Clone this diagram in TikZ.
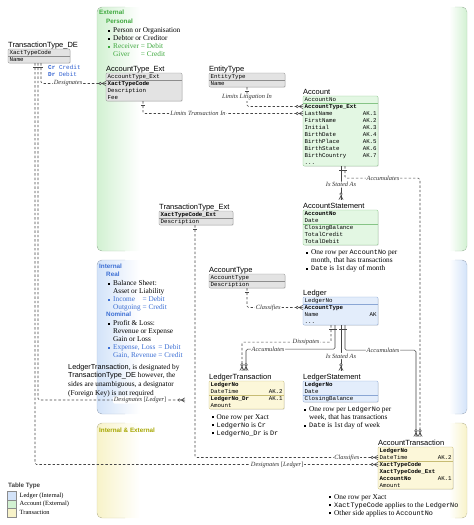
\documentclass[tikz,border=0pt]{standalone}
\usepackage{fontspec}
\setmainfont{Liberation Serif}
\setsansfont{Liberation Sans}
\setmonofont{Liberation Mono}
\usepackage{calc}
\usetikzlibrary{calc,shadows}

\definecolor{pgreen}{HTML}{D2F1D2}
\definecolor{pblue}{HTML}{D3E3F9}
\definecolor{pyel}{HTML}{F8F3C9}
\definecolor{extgreen}{HTML}{3DA83D}
\definecolor{intblue}{HTML}{3C6FD4}
\definecolor{bothyel}{HTML}{A6A600}
\definecolor{tabgray}{HTML}{E3E3E3}
\definecolor{tabgrayd}{HTML}{8E8E8E}
\definecolor{tabgreen}{HTML}{E3F7E3}
\definecolor{tabgreend}{HTML}{86C486}
\definecolor{tabblue}{HTML}{E3EDFB}
\definecolor{tabblued}{HTML}{8AA6D4}
\definecolor{tabyel}{HTML}{FCF7D9}
\definecolor{tabyeld}{HTML}{C7BC74}
\definecolor{linegray}{HTML}{454545}
\definecolor{crblue}{HTML}{3060D0}

\tikzset{
  etitle/.style={anchor=base west, inner sep=0pt, font=\sffamily\fontsize{7.5}{9}\selectfont},
  erow/.style={anchor=west, inner xsep=1.5pt, inner ysep=0pt, minimum height=7pt,
    text height=4.3pt, text depth=1.3pt, font=\ttfamily\fontsize{5.8}{7}\selectfont},
  gtab/.style={draw=tabgrayd, fill=tabgray},
  atab/.style={draw=tabgreend, fill=tabgreen},
  ltab/.style={draw=tabblued, fill=tabblue},
  ttab/.style={draw=tabyeld, fill=tabyel},
  tabshadow/.style={drop shadow={shadow xshift=0.8pt, shadow yshift=-0.8pt, opacity=0.2}},
  rel/.style={draw=linegray, line width=0.55pt, dash pattern=on 2.4pt off 2pt, rounded corners=1.5pt},
  idrel/.style={draw=linegray, line width=0.55pt, rounded corners=1.5pt},
  lbl/.style={fill=white, inner sep=0.8pt, text=black!80, font=\itshape\fontsize{6.4}{7}\selectfont},
  note/.style={anchor=north west, inner sep=0pt, align=left, font=\fontsize{7.3}{8}\selectfont},
  head/.style={anchor=base west, inner sep=0pt, font=\sffamily\bfseries\fontsize{6.3}{7}\selectfont},
  swatch/.style={draw=black!45, anchor=north west, minimum width=9pt, minimum height=8.5pt, inner sep=0pt},
  legtext/.style={anchor=base west, inner sep=0pt, font=\fontsize{6.4}{7}\selectfont},
  zmany/.pic={
    \draw[linegray, line width=0.5pt] (-4,0) -- (0,0) (-4,0) -- (0,2.2) (-4,0) -- (0,-2.2);
    \draw[linegray, line width=0.5pt, fill=white] (-5.7,0) circle (1.3);
  },
  onebar/.pic={\draw[linegray, line width=0.5pt] (-1.6,0) -- (1.6,0);},
}

\newcommand\bul{\makebox[5pt][l]{\rule[0.8pt]{2.2pt}{2.2pt}}}
\newcommand\ind{\hspace*{5pt}}
\newcommand\code[1]{{\ttfamily\fontsize{6.8}{8}\selectfont #1}}

% table: id, title, x, top, width, look, key rows, rows, row list
\newcommand\entity[9]{%
  \draw[#6, rounded corners=1.2pt, tabshadow] (#3,#4) rectangle ++(#5,{7*#8});
  \node[etitle] (#1) at (#3,{#4-1.8}) {#2};
  \pgfmathsetlengthmacro\rowwd{#5*1pt-3pt}
  \foreach \r [count=\i] in {#9}
    \node[erow, text width=\rowwd] (#1-\i) at (#3,{#4+7*\i-3.5}) {\r};
  \draw[#6, fill=none] (#3,{#4+7*#7}) -- ++(#5,0);
}

% panel: colour, top, bottom
\newcommand\panel[3]{%
  \begin{scope}
    \clip[rounded corners=5pt] (97,#2) rectangle (467,#3);
    \fill[left color=#1, right color=white] (97,#2) rectangle (140,#3);
    \fill[left color=white, right color=#1] (449,#2) rectangle (467,#3);
  \end{scope}
  \draw[#1!85!black, rounded corners=5pt] (125,#2) -- (97,#2) -- (97,#3) -- (125,#3);
  \draw[#1!85!black, rounded corners=5pt] (455,#2) -- (467,#2) -- (467,#3) -- (455,#3);
}

\begin{document}
\begin{tikzpicture}[x=1pt, y=-1pt]
\useasboundingbox (0,0) rectangle (474,525);

% Bereiche

\panel{pgreen}{7}{251}
\panel{pblue}{260}{414}
\panel{pyel}{423}{518}

\node[head, text=extgreen] (exth) at (99,14.3) {External};
\node[head, text=extgreen] (persh) at (106,23.3) {Personal};
\node[note] (persl) at (108,26.9) {\strut\bul Person or Organisation\\
  \bul Debtor or Creditor\\
  \textcolor{extgreen}{\bul \makebox[\widthof{Receiver}][l]{Receiver} = Debit}\\
  \textcolor{extgreen}{\ind \makebox[\widthof{Receiver}][l]{Giver} = Credit}};

\node[head, text=intblue] (inth) at (99,268.3) {Internal};
\node[head, text=intblue] (realh) at (106,276.8) {Real};
\node[note] (reall) at (108,279.9) {\strut\bul Balance Sheet:\\
  \ind Asset or Liability\\
  \textcolor{intblue}{\bul \makebox[\widthof{Outgoing}][l]{Income} = Debit}\\
  \textcolor{intblue}{\ind Outgoing = Credit}};
\node[head, text=intblue] (nomh) at (106,316.7) {Nominal};
\node[note] (noml) at (108,319.9) {\strut\bul Profit \& Loss:\\
  \ind Revenue or Expense\\
  \ind Gain or Loss\\
  \textcolor{intblue}{\bul \makebox[\widthof{Gain, Revenue}][l]{Expense, Loss} = Debit}\\
  \textcolor{intblue}{\ind Gain, Revenue = Credit}};

\node[head, text=bothyel] (bothh) at (99,432.5) {Internal \& External};

% Tabellen

\entity{ttde}{TransactionType\_DE}{8}{49}{62}{gtab}{1}{2}{XactTypeCode, Name}
\entity{ate}{AccountType\_Ext}{106}{73}{76}{gtab}{1}{4}{AccountType\_Ext, \textbf{XactTypeCode}, Description, Fee}
\entity{ent}{EntityType}{209}{73}{76}{gtab}{1}{2}{EntityType, Name}
\entity{acc}{Account}{303}{96}{75}{atab}{1}{10}{AccountNo, \textbf{AccountType\_Ext}, LastName\hfill AK.1,
  FirstName\hfill AK.2, Initial\hfill AK.3, BirthDate\hfill AK.4, BirthPlace\hfill AK.5,
  BirthState\hfill AK.6, BirthCountry\hfill AK.7, .{}.{}.}
\entity{ast}{AccountStatement}{303}{210}{75}{atab}{2}{5}{\textbf{AccountNo}, Date, ClosingBalance, TotalCredit, TotalDebit}
\entity{tte}{TransactionType\_Ext}{159}{211}{74}{gtab}{1}{2}{\textbf{XactTypeCode\_Ext}, Description}
\entity{aty}{AccountType}{209}{274}{76}{gtab}{1}{2}{AccountType, Description}
\entity{led}{Ledger}{303}{297}{75}{ltab}{1}{4}{LedgerNo, \textbf{AccountType}, Name\hfill AK, .{}.{}.}
\entity{ltr}{LedgerTransaction}{209}{381}{75}{ttab}{2}{4}{\textbf{LedgerNo}, DateTime\hfill AK.2,
  \textbf{LedgerNo\_Dr}\hfill AK.1, Amount}
\entity{lst}{LedgerStatement}{303}{381}{75}{ltab}{2}{3}{\textbf{LedgerNo}, Date, ClosingBalance}
\entity{atr}{AccountTransaction}{378}{447}{75}{ttab}{2}{6}{\textbf{LedgerNo}, DateTime\hfill AK.2,
  \textbf{XactTypeCode}, \textbf{XactTypeCode\_Ext}, \textbf{AccountNo}\hfill AK.1, Amount}

% Anmerkungen

\node[note] (astnote) at (306,248.9) {\strut\bul One row per \code{AccountNo} per\\
  \ind month, that has transactions\\ \bul \code{Date} is 1st day of month};
\node[note] (ltrnote) at (211.5,413.4) {\strut\bul One row per Xact\\
  \bul \code{LedgerNo} is \code{Cr}\\ \bul \code{LedgerNo\_Dr} is \code{Dr}};
\node[note] (lstnote) at (304,405.9) {\strut\bul One row per \code{LedgerNo} per\\
  \ind week, that has transactions\\ \bul \code{Date} is 1st day of week};
\node[note] (atrnote) at (329,493.4) {\strut\bul One row per Xact\\
  \bul \code{XactTypeCode} applies to the \code{LedgerNo}\\
  \bul Other side applies to \code{AccountNo}};
\node[note, font=\fontsize{7.3}{8.6}\selectfont] (desnote) at (68,363) {\strut\textsf{LedgerTransaction}, is designated by\\
  \textsf{TransactionType\_DE} however, the\\
  sides are unambiguous, a designator\\
  (Foreign Key) is not required};

\node[anchor=base west, inner sep=0pt, text=crblue, font=\ttfamily\fontsize{6}{7}\selectfont] (cr) at (48,69.3) {\textbf{Cr} Credit};
\node[anchor=base west, inner sep=0pt, text=crblue, font=\ttfamily\fontsize{6}{7}\selectfont] (dr) at (48,76.3) {\textbf{Dr} Debit};

% Beziehungen

\coordinate (dlg) at (185,400);

\draw[rel] ($(ttde-2.south west)+(27,0)$) |- node[lbl,pos=0.853] (l1) {Designates \textup{[}Ledger\textup{]}} (atr-3.west);
\draw[rel] ($(ttde-2.south west)+(30,0)$) |- node[lbl,pos=0.847] (l2) {Designates \textup{[}Ledger\textup{]}} (dlg);
\draw[rel] ($(ttde-2.south west)+(33,0)$) |- node[lbl,pos=0.708] (l3) {Designates} (ate-2.west);
\foreach \dx in {27,30,33} \pic at ($(ttde-2.south west)+(\dx,4)$) {onebar};
\pic at (atr-3.west) {zmany};
\pic at (dlg) {zmany};
\pic at (ate-2.west) {zmany};

\draw[rel] ($(ate-4.south west)+(37,0)$) |- node[lbl,pos=0.672] (l4) {Limits Transaction In} (acc-3.west);
\pic at ($(ate-4.south west)+(37,4)$) {onebar};
\pic at (acc-3.west) {zmany};

\draw[rel] ($(ent-2.south west)+(38,0)$) |- node[lbl,pos=0.26] (l5) {Limits Litigation In} (acc-2.west);
\pic at ($(ent-2.south west)+(38,4)$) {onebar};
\pic at (acc-2.west) {zmany};

\draw[idrel] ($(acc-10.south west)+(38,0)$) -- node[lbl,pos=0.55] (l6) {Is Stated As} ($(ast.north west)+(38,-3)$);
\draw[rel] ($(acc-10.south west)+(42,0)$) -- ++(0,12) -| node[lbl,pos=0.253] (l7) {Accumulates} ($(atr.north west)+(42,-3)$);
\foreach \dx in {38,42} \pic at ($(acc-10.south west)+(\dx,4)$) {onebar};
\pic[rotate=-90] at ($(ast.north west)+(38,-3)$) {zmany};
\pic[rotate=-90] at ($(atr.north west)+(42,-3)$) {zmany};

\draw[rel] ($(tte-2.south west)+(36,0)$) |- node[lbl,pos=0.915] (l8) {Classifies} (atr-2.west);
\pic at ($(tte-2.south west)+(36,4)$) {onebar};
\pic at (atr-2.west) {zmany};

\draw[rel] ($(aty-2.south west)+(38,0)$) |- node[lbl,pos=0.69] (l9) {Classifies} (led-2.west);
\pic at ($(aty-2.south west)+(38,4)$) {onebar};
\pic at (led-2.west) {zmany};

\draw[rel] ($(led-4.south west)+(28,0)$) -- ++(0,17) -| node[lbl,pos=0.14] (l10) {Dissipates} ($(ltr.north west)+(33,-3)$);
\draw[idrel] ($(led-4.south west)+(32,0)$) -- ++(0,24) -| node[lbl,pos=0.376] (l11) {Accumulates} ($(ltr.north west)+(37,-3)$);
\draw[idrel] ($(led-4.south west)+(38,0)$) -- node[lbl,pos=0.68] (l12) {Is Stated As} ($(lst.north west)+(38,-3)$);
\draw[idrel] ($(led-4.south west)+(42,0)$) -- ++(0,25) -| node[lbl,pos=0.268] (l13) {Accumulates} ($(atr.north west)+(38,-3)$);
\foreach \dx in {28,32,38,42} \pic at ($(led-4.south west)+(\dx,4)$) {onebar};
\pic[rotate=-90] at ($(ltr.north west)+(33,-3)$) {zmany};
\pic[rotate=-90] at ($(ltr.north west)+(37,-3)$) {zmany};
\pic[rotate=-90] at ($(lst.north west)+(38,-3)$) {zmany};
\pic[rotate=-90] at ($(atr.north west)+(38,-3)$) {zmany};

% Legende

\node[head, text=black!75] (legh) at (8,487.5) {Table Type};
\node[swatch, fill=pblue] (sw1) at (7,491) {};
\node[swatch, fill=pgreen] (sw2) at (7,499.5) {};
\node[swatch, fill=pyel] (sw3) at (7,508) {};
\node[legtext] (lg1) at (19.5,497.3) {Ledger (Internal)};
\node[legtext] (lg2) at (19.5,505.8) {Account (External)};
\node[legtext] (lg3) at (19.5,514.3) {Transaction};

\end{tikzpicture}
\end{document}
